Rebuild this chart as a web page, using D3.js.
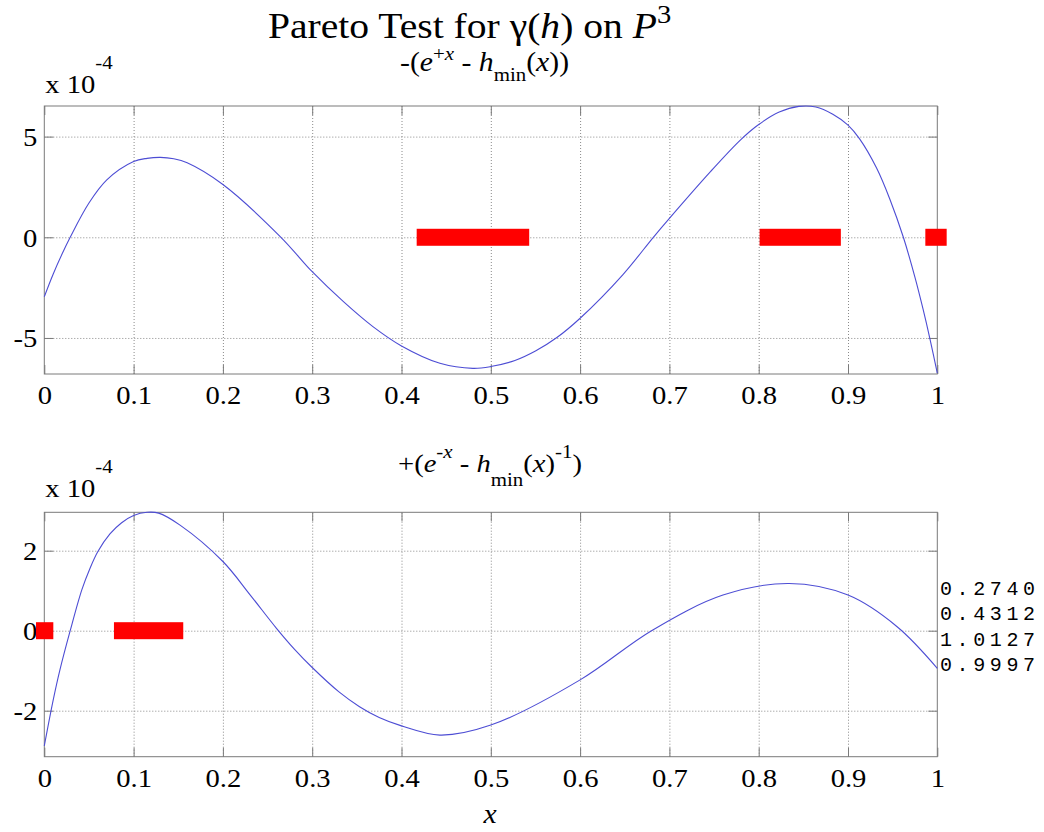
<!DOCTYPE html>
<html>
<head>
<meta charset="utf-8">
<script src="https://cdn.jsdelivr.net/npm/d3@7"></script>
<style>
  body { margin: 0; background: #fff; }
  svg { display: block; }
</style>
</head>
<body>
<svg id="chart" width="1044" height="832"></svg>
<script>
// ---- data -------------------------------------------------------------
const xTickValues = [0, 0.1, 0.2, 0.3, 0.4, 0.5, 0.6, 0.7, 0.8, 0.9, 1];
const xTickLabels = ["0", "0.1", "0.2", "0.3", "0.4", "0.5", "0.6", "0.7", "0.8", "0.9", "1"];
const topYTicks = [-5, 0, 5];
const topYLabels = ["-5", "0", "5"];
const botYTicks = [-2, 0, 2];
const botYLabels = ["-2", "0", "2"];

// upper panel: -(e^{+x} - h_min(x)), units of 1e-4
const topX = [0, 0.01, 0.02, 0.029, 0.05, 0.07, 0.1, 0.115, 0.13, 0.145, 0.16, 0.2, 0.265, 0.3,
  0.335, 0.368, 0.4, 0.443, 0.48, 0.5, 0.527, 0.55, 0.574, 0.6, 0.648, 0.682, 0.7, 0.746, 0.78,
  0.8, 0.823, 0.845, 0.864, 0.883, 0.9, 0.913, 0.932, 0.947, 0.962, 0.975, 0.984, 0.992, 1.0];
const topY = [-2.95, -1.82, -0.82, 0, 1.70, 2.85, 3.76, 3.92, 3.97, 3.90, 3.70, 2.62, 0, -1.71,
  -3.2, -4.44, -5.40, -6.26, -6.51, -6.42, -6.12, -5.65, -4.98, -4.02, -1.85, 0, 0.94, 3.26, 4.85,
  5.60, 6.22, 6.50, 6.47, 6.11, 5.57, 4.89, 3.44, 1.88, 0, -1.99, -3.56, -5.09, -6.75];

// lower panel: +(e^{-x} - h_min(x)^{-1}), units of 1e-4
const botX = [0, 0.01, 0.0175, 0.029, 0.042, 0.051, 0.06, 0.0735, 0.0866, 0.1, 0.115, 0.128,
  0.152, 0.2, 0.23, 0.26, 0.28, 0.3, 0.33, 0.353, 0.375, 0.4, 0.443, 0.5, 0.6, 0.68, 0.76,
  0.834, 0.9, 0.955, 1.0];
const botY = [-2.88, -1.73, -0.98, 0, 1.02, 1.55, 1.98, 2.42, 2.70, 2.88, 2.96, 2.94,
  2.64, 1.73, 0.91, 0.06, -0.46, -0.92, -1.53, -1.90, -2.17, -2.38, -2.61, -2.36, -1.23, 0, 0.89,
  1.18, 0.89, 0.1, -0.94];

// intervals marked on the zero line
const topBars = [[0.417, 0.543], [0.801, 0.892], [0.9866, 1.0105]];
const botBars = [[-0.0093, 0.0101], [0.078, 0.1556]];

// printed values beside the lower panel
const sideValues = ["0.2740", "0.4312", "1.0127", "0.9997"];

// ---- drawing ----------------------------------------------------------
const svg = d3.select("#chart");
const SERIF = "'Liberation Serif', 'Times New Roman', serif";
const SX = 1.1;            // horizontal stretch of the serif type
const AXIS_COLOR = "#7a7a7a";
const GRID_COLOR = "#8a8a8a";
const LINE_COLOR = "#4d4dd4";

// rich text: parts = [{t, it, sup, sub}]
function richText(x, y, parts, size, anchor) {
  const g = svg.append("g").attr("transform", `translate(${x},${y}) scale(${SX},1)`);
  const text = g.append("text")
    .style("font-family", SERIF)
    .attr("font-size", size)
    .attr("text-anchor", anchor || "start")
    .attr("fill", "#000");
  let shift = 0;
  parts.forEach(p => {
    const target = p.sup ? -p.sup : (p.sub ? p.sub : 0);
    const ts = text.append("tspan").text(p.t).attr("dy", target - shift);
    shift = target;
    if (p.it) ts.attr("font-style", "italic");
    if (p.sup || p.sub) ts.attr("font-size", p.size || Math.round(size * 0.7));
  });
  return text;
}

function panel(p) {
  const x = d3.scaleLinear([0, 1], [p.left, p.right]);
  const y = d3.scaleLinear(p.domain, [p.bottom, p.top]);
  const w = p.right - p.left, h = p.bottom - p.top;
  const g = svg.append("g");

  // dotted grid
  g.append("g")
    .attr("transform", `translate(0,${p.bottom})`)
    .call(d3.axisBottom(x).tickValues(xTickValues.slice(1, -1)).tickSize(-h).tickFormat(""))
    .call(s => s.select(".domain").remove())
    .selectAll("line").attr("stroke", GRID_COLOR).attr("stroke-dasharray", "1,2");
  g.append("g")
    .attr("transform", `translate(${p.left},0)`)
    .call(d3.axisLeft(y).tickValues(p.yTicks).tickSize(-w).tickFormat(""))
    .call(s => s.select(".domain").remove())
    .selectAll("line").attr("stroke", GRID_COLOR).attr("stroke-dasharray", "1,2");

  // axes box
  g.append("rect")
    .attr("x", p.left).attr("y", p.top).attr("width", w).attr("height", h)
    .attr("fill", "none").attr("stroke", AXIS_COLOR).attr("stroke-width", 1);

  const styleAxis = s => {
    s.select(".domain").remove();
    s.selectAll("line").attr("stroke", AXIS_COLOR);
    s.selectAll("text")
      .style("font-family", SERIF)
      .style("font-size", "26px")
      .attr("fill", "#000");
  };

  // x axis, ticks inward on both edges
  g.append("g")
    .attr("transform", `translate(0,${p.bottom})`)
    .call(d3.axisBottom(x).tickValues(xTickValues).tickSize(-9)
      .tickFormat((d, i) => xTickLabels[i]))
    .call(styleAxis)
    .call(s => s.selectAll("text").attr("y", 30).attr("dy", 0)
      .attr("transform", `scale(${SX},1)`));
  g.append("g")
    .attr("transform", `translate(0,${p.top})`)
    .call(d3.axisTop(x).tickValues(xTickValues).tickSize(-9).tickFormat(""))
    .call(styleAxis);

  // y axis
  g.append("g")
    .attr("transform", `translate(${p.left},0)`)
    .call(d3.axisLeft(y).tickValues(p.yTicks).tickSize(-9)
      .tickFormat((d, i) => p.yLabels[i]))
    .call(styleAxis)
    .call(s => s.selectAll("text").attr("x", -7 / SX).attr("y", 9).attr("dy", 0)
      .attr("transform", `scale(${SX},1)`));
  g.append("g")
    .attr("transform", `translate(${p.right},0)`)
    .call(d3.axisRight(y).tickValues(p.yTicks).tickSize(-9).tickFormat(""))
    .call(styleAxis);

  // curve
  const line = d3.line()
    .x((d, i) => x(p.xs[i]))
    .y(d => y(d))
    .curve(d3.curveCatmullRom.alpha(0.5));
  g.append("path")
    .attr("d", line(p.ys))
    .attr("fill", "none")
    .attr("stroke", LINE_COLOR)
    .attr("stroke-width", 1.1);

  // marked intervals
  g.selectAll("rect.bar").data(p.bars).join("rect")
    .attr("class", "bar")
    .attr("x", d => x(d[0]))
    .attr("width", d => x(d[1]) - x(d[0]))
    .attr("y", y(0) - 8.5)
    .attr("height", 17)
    .attr("fill", "#ff0000");

  // exponent label
  richText(p.left + 1, p.expY, [{ t: "x 10" }, { t: "-4", sup: 24, size: 19 }], 26);

  return { x, y };
}

panel({
  left: 44.3, right: 937.3, top: 106, bottom: 374,
  domain: [-6.79, 6.52], yTicks: topYTicks, yLabels: topYLabels,
  xs: topX, ys: topY, bars: topBars, expY: 93
});
panel({
  left: 44.3, right: 937.3, top: 512.3, bottom: 756.7,
  domain: [-3.15, 2.96], yTicks: botYTicks, yLabels: botYLabels,
  xs: botX, ys: botY, bars: botBars, expY: 497
});

// titles
richText(268, 38, [
  { t: "Pareto Test for " }, { t: "γ" }, { t: "(" }, { t: "h", it: true }, { t: ") on " },
  { t: "P", it: true }, { t: "3", sup: 15, size: 26 }
], 36);
richText(400, 71, [
  { t: "-(" }, { t: "e", it: true }, { t: "+", sup: 11, size: 19 }, { t: "x", it: true, sup: 11, size: 19 },
  { t: " - " }, { t: "h", it: true }, { t: "min", sub: 10, size: 19 }, { t: "(" }, { t: "x", it: true }, { t: "))" }
], 27);
richText(398, 472, [
  { t: "+(" }, { t: "e", it: true }, { t: "-", sup: 14, size: 19 }, { t: "x", it: true, sup: 14, size: 19 },
  { t: " - " }, { t: "h", it: true }, { t: "min", sub: 14, size: 19 }, { t: "(" }, { t: "x", it: true },
  { t: ")" }, { t: "-1", sup: 14, size: 19 }, { t: ")" }
], 26);

// x label
richText(490, 823, [{ t: "x", it: true }], 27, "middle");

// side values
svg.append("g")
  .selectAll("text").data(sideValues).join("text")
  .attr("x", 940)
  .attr("y", (d, i) => 595 + i * 25.3)
  .style("font-family", "'Liberation Mono', 'DejaVu Sans Mono', monospace")
  .attr("font-size", 20)
  .attr("letter-spacing", 4.6)
  .attr("fill", "#000")
  .text(d => d);
</script>
</body>
</html>
